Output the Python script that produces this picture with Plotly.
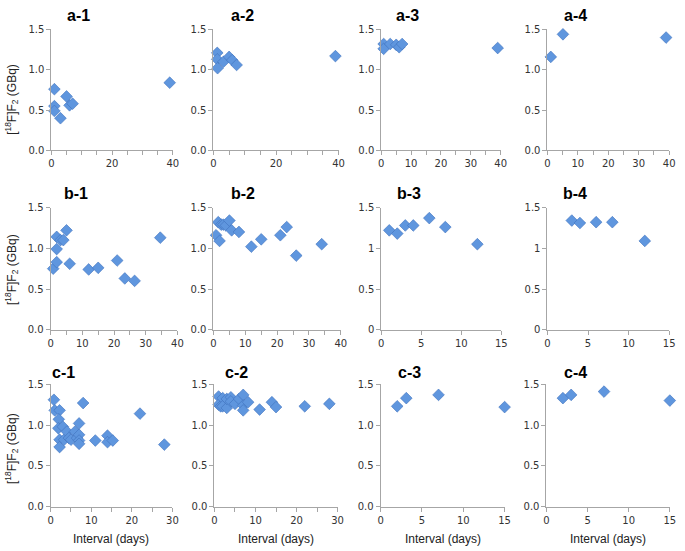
import plotly.graph_objects as go

# ---------------- data ----------------
a1_x = [1, 1, 1, 3, 5, 6, 7, 39]
a1_y = [0.76, 0.55, 0.49, 0.40, 0.67, 0.56, 0.58, 0.84]
a2_x = [1.2, 1.2, 1.3, 3.2, 5, 6, 7.4, 39]
a2_y = [1.21, 1.13, 1.02, 1.10, 1.16, 1.12, 1.06, 1.17]
a3_x = [0.8, 0.8, 3, 5, 6, 7, 39]
a3_y = [1.32, 1.26, 1.32, 1.31, 1.28, 1.32, 1.27]
a4_x = [1.1, 5.1, 39]
a4_y = [1.16, 1.44, 1.40]

b1_x = [0.8, 1.9, 1.9, 1.9, 3.1, 4, 5, 6, 12, 15, 21, 23.4, 26.5, 34.6]
b1_y = [0.75, 1.14, 0.99, 0.83, 1.10, 1.10, 1.22, 0.81, 0.74, 0.76, 0.85, 0.63, 0.60, 1.13]
b2_x = [0.8, 1.9, 1.5, 2.4, 3.1, 3.9, 5, 5.7, 8, 11.9, 15, 21, 23, 26, 34]
b2_y = [1.16, 1.09, 1.32, 1.29, 1.29, 1.28, 1.34, 1.22, 1.20, 1.02, 1.11, 1.16, 1.26, 0.91, 1.05]
b3_x = [1, 2, 3, 4, 6, 8, 12]
b3_y = [1.22, 1.18, 1.28, 1.28, 1.37, 1.26, 1.05]
b4_x = [3, 4, 6, 8, 12]
b4_y = [1.34, 1.31, 1.32, 1.32, 1.09]

c1_x = [0.8, 1, 2.2, 2, 1.9, 2.2, 2.2, 3, 3.3, 4, 4.5, 5, 6, 6.5, 7, 7, 7, 7, 8, 11, 14, 14, 15.3, 22, 28]
c1_y = [1.31, 1.18, 1.18, 1.07, 0.96, 0.82, 0.73, 0.98, 0.82, 0.92, 0.84, 0.82, 0.92, 0.84,
        1.02, 0.88, 0.81, 0.77, 1.27, 0.81, 0.87, 0.79, 0.81, 1.14, 0.76]
c2_x = [1, 1, 1.5, 2, 2, 3, 3, 4, 4, 5, 6, 7, 7, 7, 8.2, 11, 14, 15, 22, 28]
c2_y = [1.35, 1.25, 1.23, 1.33, 1.23, 1.21, 1.32, 1.34, 1.29, 1.26, 1.32, 1.37, 1.24, 1.18,
        1.28, 1.19, 1.28, 1.22, 1.23, 1.26]
c3_x = [2, 3.1, 7, 15]
c3_y = [1.23, 1.33, 1.37, 1.22]
c4_x = [2, 3, 7, 15]
c4_y = [1.33, 1.37, 1.41, 1.30]

panel_names = ["a-1", "a-2", "a-3", "a-4", "b-1", "b-2", "b-3", "b-4", "c-1", "c-2", "c-3", "c-4"]
xs = [a1_x, a2_x, a3_x, a4_x, b1_x, b2_x, b3_x, b4_x, c1_x, c2_x, c3_x, c4_x]
ys = [a1_y, a2_y, a3_y, a4_y, b1_y, b2_y, b3_y, b4_y, c1_y, c2_y, c3_y, c4_y]
x_max = [40, 40, 40, 40, 40, 40, 15, 15, 30, 30, 15, 15]
x_dtick = [20, 20, 10, 10, 10, 10, 5, 5, 10, 10, 5, 5]
y_fmt = [".1f"] * 6 + ["", ""] + [".1f"] * 4

# ---------------- layout geometry (pixels) ----------------
W, H = 685, 551
col_px = [
    [(49, 172), (213.3, 340), (383.3, 504.3), (551.7, 675)],
    [(48.3, 176.7), (213.3, 342.3), (383.3, 505), (551.7, 675)],
    [(48.3, 171.7), (214.3, 339), (382.7, 508.3), (550.7, 675.7)],
]
row_px = [(24, 147.7), (206, 331), (386.7, 511.7)]
title_pos = [
    [(76, 10), (243, 10), (410, 10), (580, 10)],
    [(74, 192), (243, 192), (411, 192), (580, 192)],
    [(61, 375), (237, 375), (412, 375), (580, 375)],
]

AX = "#a6a6a6"
TICKFONT = dict(family="DejaVu Sans", size=10, color="#333333")

fig = go.Figure()
annotations = []
layout = {}
for i in range(12):
    r, c = divmod(i, 4)
    n = "" if i == 0 else str(i + 1)
    x0, x1 = col_px[r][c]
    yt, yb = row_px[r]
    fig.add_trace(go.Scatter(
        x=xs[i], y=ys[i], mode="markers",
        xaxis="x" + n, yaxis="y" + n, cliponaxis=False, showlegend=False,
        marker=dict(symbol="diamond", size=9, color="#5f96de",
                    line=dict(color="#3f72bd", width=0.6)),
    ))
    xa = dict(domain=[x0 / W, x1 / W], range=[0, x_max[i]], dtick=x_dtick[i], tick0=0,
              showgrid=False, zeroline=False, showline=True, linecolor=AX, linewidth=1,
              ticks="outside", ticklen=4, tickcolor=AX, tickfont=TICKFONT,
              anchor="y" + n, fixedrange=True)
    if x_dtick[i] > 5:
        xa["minor"] = dict(dtick=5, tick0=0, ticks="outside", ticklen=4, tickcolor=AX, showgrid=False)
    ya = dict(domain=[1 - yb / H, 1 - yt / H], range=[0, 1.5], dtick=0.5, tick0=0,
              showgrid=False, zeroline=False, showline=True, linecolor=AX, linewidth=1,
              ticks="outside", ticklen=4, tickcolor=AX, tickfont=TICKFONT,
              anchor="x" + n, fixedrange=True)
    if y_fmt[i]:
        ya["tickformat"] = y_fmt[i]
    layout["xaxis" + n] = xa
    layout["yaxis" + n] = ya
    tx, ty = title_pos[r][c]
    annotations.append(dict(text="<b>%s</b>" % panel_names[i], x=tx / W, y=1 - ty / H,
                            xref="paper", yref="paper", showarrow=False,
                            xanchor="center", yanchor="middle",
                            font=dict(family="Liberation Sans", size=16, color="#000000")))

# y-axis titles (first column)
for yc in [95, 269, 452]:
    annotations.append(dict(text="[<sup>18</sup>F]F<sub>2</sub> (GBq)", x=9 / W, y=1 - yc / H,
                            xref="paper", yref="paper", showarrow=False, textangle=-90,
                            xanchor="center", yanchor="middle",
                            font=dict(family="Liberation Sans", size=12, color="#222222")))
# x-axis titles (bottom row)
for xc in [109, 277, 446, 613]:
    annotations.append(dict(text="Interval (days)", x=xc / W, y=1 - 545 / H,
                            xref="paper", yref="paper", showarrow=False,
                            xanchor="center", yanchor="middle",
                            font=dict(family="Liberation Sans", size=12, color="#222222")))

fig.update_layout(width=W, height=H, margin=dict(l=0, r=0, t=0, b=0),
                  paper_bgcolor="white", plot_bgcolor="white",
                  annotations=annotations, **layout)
fig.write_html("out.html", config={"displayModeBar": False},
               post_script="document.body.style.margin='0';document.body.style.padding='0';"
                           "document.documentElement.style.overflow='hidden';")
